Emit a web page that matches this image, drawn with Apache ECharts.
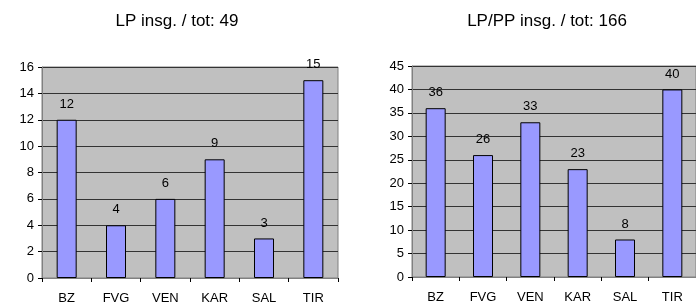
<!DOCTYPE html>
<html>
<head>
<meta charset="utf-8">
<script src="https://cdn.jsdelivr.net/npm/echarts@6/dist/echarts.min.js"></script>
<style>
  html, body { margin: 0; padding: 0; background: #fff; }
  #chart { width: 696px; height: 308px; }
</style>
</head>
<body>
<div id="chart"></div>
<script>
var categories = ['BZ', 'FVG', 'VEN', 'KAR', 'SAL', 'TIR'];
var lpValues = [12, 4, 6, 9, 3, 15];
var lpppValues = [36, 26, 33, 23, 8, 40];
var lpTitle = 'LP insg. / tot: 49';
var lpppTitle = 'LP/PP insg. / tot: 166';

var myChart = echarts.init(document.getElementById('chart'));
var font = 'Liberation Sans, Arial, sans-serif';

function xAxisFor(idx) {
  return {
    type: 'category',
    gridIndex: idx,
    data: categories,
    axisLine: { lineStyle: { color: '#808080' } },
    axisTick: { show: true, length: 4, lineStyle: { color: '#000' } },
    axisLabel: { color: '#000', fontSize: 13, fontFamily: font, margin: 14 }
  };
}
function yAxisFor(idx, max, step, margin) {
  return {
    type: 'value',
    gridIndex: idx,
    min: 0, max: max, interval: step,
    axisLine: { show: true, lineStyle: { color: '#808080' } },
    axisTick: { show: true, length: 4, lineStyle: { color: '#000' } },
    axisLabel: { color: '#000', fontSize: 13, fontFamily: font, margin: margin },
    splitLine: { show: true, lineStyle: { color: '#333', width: 1 } }
  };
}
function barsFor(idx, data) {
  return {
    type: 'bar',
    xAxisIndex: idx,
    yAxisIndex: idx,
    data: data,
    barWidth: 20,
    itemStyle: { color: '#9999FF', borderColor: '#000', borderWidth: 1 },
    label: { show: true, position: 'top', distance: 9, color: '#000', fontSize: 13, fontFamily: font }
  };
}

var option = {
  animation: false,
  backgroundColor: '#fff',
  title: [
    { text: lpTitle, left: 172, top: 8, textAlign: 'center',
      textStyle: { fontSize: 17, fontWeight: 'normal', color: '#000', fontFamily: font } },
    { text: lpppTitle, left: 542, top: 8, textAlign: 'center',
      textStyle: { fontSize: 17, fontWeight: 'normal', color: '#000', fontFamily: font } }
  ],
  grid: [
    { left: 42, right: 358, top: 67, bottom: 30, show: true, backgroundColor: '#C0C0C0', borderColor: '#808080', borderWidth: 1 },
    { left: 412, right: -9, top: 66, bottom: 31, show: true, backgroundColor: '#C0C0C0', borderColor: '#808080', borderWidth: 1 }
  ],
  xAxis: [xAxisFor(0), xAxisFor(1)],
  yAxis: [yAxisFor(0, 16, 2, 8), yAxisFor(1, 45, 5, 8)],
  series: [barsFor(0, lpValues), barsFor(1, lpppValues)]
};
myChart.setOption(option);
</script>
</body>
</html>
